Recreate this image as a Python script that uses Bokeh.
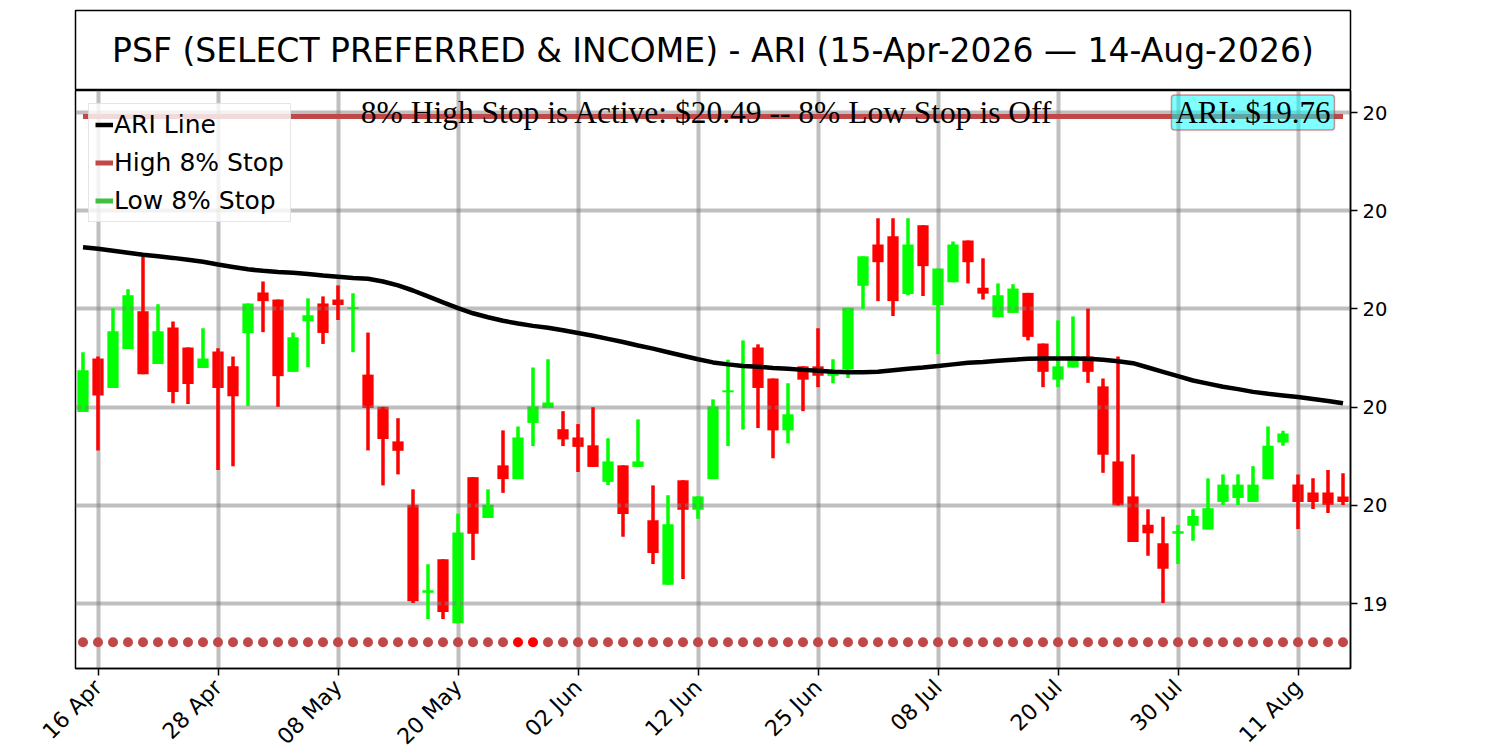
import math
import pandas as pd
from bokeh.plotting import figure
from bokeh.models import ColumnDataSource, FixedTicker, Range1d, Label, Legend, LegendItem
from bokeh.layouts import column
from bokeh.embed import file_html
from bokeh.resources import INLINE
from bokeh.core.properties import value

# ---------------- data ----------------
ticker_name = "PSF (SELECT PREFERRED & INCOME)"
holidays = ["2026-05-25", "2026-06-19", "2026-07-03"]
dates = [d for d in pd.bdate_range("2026-04-15", "2026-08-14") if d.strftime("%Y-%m-%d") not in holidays]

opens = [19.738, 19.874, 19.799, 19.898, 19.994, 19.860, 19.953, 19.902, 19.850, 19.892,
         19.854, 19.939, 20.042, 20.024, 19.840, 19.969, 20.014, 20.024, 20.000, 19.833,
         19.751, 19.663, 19.502, 19.278, 19.363, 19.200, 19.572, 19.468, 19.602, 19.567,
         19.710, 19.748, 19.694, 19.673, 19.653, 19.560, 19.602, 19.598, 19.462, 19.298,
         19.564, 19.489, 19.567, 19.788, 19.851, 19.902, 19.823, 19.691, 19.854, 19.854,
         19.830, 19.846, 20.059, 20.164, 20.185, 20.038, 20.213, 20.010, 20.068, 20.174,
         20.054, 19.979, 19.990, 20.041, 19.912, 19.820, 19.851, 19.879, 19.803, 19.612,
         19.523, 19.451, 19.404, 19.428, 19.448, 19.439, 19.509, 19.519, 19.509, 19.567,
         19.660, 19.553, 19.533, 19.533, 19.523]
highs = [19.890, 19.879, 20.002, 20.050, 20.132, 20.012, 19.968, 19.902, 19.951, 19.900,
         19.879, 20.014, 20.070, 20.024, 19.940, 20.027, 20.032, 20.060, 20.040, 19.940,
         19.751, 19.722, 19.541, 19.350, 19.363, 19.479, 19.572, 19.541, 19.691, 19.701,
         19.851, 19.872, 19.740, 19.707, 19.750, 19.671, 19.602, 19.719, 19.551, 19.526,
         19.564, 19.523, 19.770, 19.871, 19.920, 19.910, 19.823, 19.811, 19.854, 19.951,
         19.872, 20.003, 20.134, 20.231, 20.231, 20.231, 20.213, 20.103, 20.172, 20.174,
         20.129, 20.065, 20.063, 20.041, 19.912, 19.971, 19.981, 20.001, 19.823, 19.879,
         19.630, 19.490, 19.471, 19.450, 19.490, 19.569, 19.579, 19.579, 19.600, 19.701,
         19.690, 19.579, 19.569, 19.590, 19.582]
lows = [19.738, 19.640, 19.799, 19.898, 19.834, 19.860, 19.760, 19.758, 19.850, 19.590,
        19.600, 19.753, 19.941, 19.751, 19.840, 19.852, 19.911, 19.972, 19.890, 19.640,
        19.551, 19.579, 19.252, 19.211, 19.211, 19.200, 19.361, 19.468, 19.532, 19.567,
        19.651, 19.748, 19.651, 19.585, 19.598, 19.552, 19.420, 19.598, 19.351, 19.298,
        19.313, 19.466, 19.567, 19.651, 19.693, 19.697, 19.620, 19.658, 19.740, 19.801,
        19.811, 19.824, 20.000, 20.020, 19.982, 20.035, 20.033, 19.885, 20.068, 20.065,
        20.024, 19.979, 19.990, 19.920, 19.801, 19.801, 19.851, 19.812, 19.583, 19.500,
        19.407, 19.372, 19.252, 19.351, 19.410, 19.439, 19.501, 19.501, 19.509, 19.567,
        19.652, 19.440, 19.491, 19.481, 19.501]
closes = [19.844, 19.780, 19.943, 20.035, 19.834, 19.943, 19.789, 19.809, 19.874, 19.799,
          19.778, 20.014, 20.020, 19.829, 19.928, 19.984, 19.939, 20.010, 20.004, 19.748,
          19.669, 19.639, 19.256, 19.284, 19.229, 19.431, 19.428, 19.502, 19.567, 19.673,
          19.752, 19.762, 19.668, 19.649, 19.598, 19.612, 19.478, 19.612, 19.379, 19.452,
          19.489, 19.523, 19.752, 19.793, 19.860, 19.799, 19.691, 19.732, 19.820, 19.830,
          19.837, 20.003, 20.134, 20.119, 20.020, 20.164, 20.109, 20.103, 20.164, 20.119,
          20.039, 20.035, 20.052, 19.929, 19.840, 19.854, 19.879, 19.840, 19.629, 19.500,
          19.407, 19.429, 19.339, 19.434, 19.473, 19.493, 19.553, 19.553, 19.553, 19.652,
          19.683, 19.509, 19.509, 19.501, 19.509]
ari = [20.157, 20.153, 20.148, 20.143, 20.138, 20.134, 20.130, 20.125, 20.120, 20.113,
       20.107, 20.101, 20.097, 20.094, 20.092, 20.089, 20.085, 20.082, 20.079, 20.077,
       20.070, 20.060, 20.047, 20.032, 20.017, 20.002, 19.989, 19.979, 19.970, 19.963,
       19.957, 19.952, 19.946, 19.939, 19.932, 19.924, 19.916, 19.907, 19.899, 19.890,
       19.881, 19.872, 19.864, 19.859, 19.855, 19.853, 19.850, 19.848, 19.845, 19.843,
       19.840, 19.839, 19.839, 19.840, 19.844, 19.848, 19.851, 19.855, 19.859, 19.863,
       19.865, 19.868, 19.871, 19.873, 19.874, 19.874, 19.874, 19.873, 19.871, 19.867,
       19.862, 19.851, 19.840, 19.829, 19.818, 19.810, 19.802, 19.796, 19.789, 19.784,
       19.780, 19.776, 19.771, 19.766, 19.760]
high_stop = 20.49
signal_level = 19.152
flagged_days = [29, 30]

x_tick_labels = ["16 Apr", "28 Apr", "08 May", "20 May", "02 Jun", "12 Jun",
                 "25 Jun", "08 Jul", "20 Jul", "30 Jul", "11 Aug"]
y_ticks = [19.25, 19.5, 19.75, 20.0, 20.25, 20.5]
y_tick_labels = ["19", "20", "20", "20", "20", "20"]

# ---------------- derived ----------------
N = len(opens)
idx = list(range(N))
day_labels = [d.strftime("%d %b") for d in dates]
x_ticks = [day_labels.index(lbl) for lbl in x_tick_labels]
title = "%s - ARI (%s \u2014 %s)" % (ticker_name, dates[0].strftime("%d-%b-%Y"), dates[-1].strftime("%d-%b-%Y"))

GREEN = "#00ff00"
RED = "#ff0000"
colors = [GREEN if c > o else RED for o, c in zip(opens, closes)]
src = ColumnDataSource(dict(
    x=idx,
    top=[max(o, c) for o, c in zip(opens, closes)],
    bottom=[min(o, c) for o, c in zip(opens, closes)],
    high=highs, low=lows, color=colors))

FONT = "DejaVu Sans"
SERIF = "Liberation Serif"
FRAME_W = 1275
LEFT = 75
RIGHT = 80

# ---------------- title box ----------------
t = figure(frame_width=FRAME_W, frame_height=80, x_range=Range1d(0, 1), y_range=Range1d(0, 1),
           output_backend="svg", toolbar_location=None,
           x_axis_location=None, y_axis_location=None,
           min_border_left=LEFT, min_border_right=RIGHT, min_border_top=10, min_border_bottom=0)
t.xgrid.visible = False
t.ygrid.visible = False
t.outline_line_color = "black"
t.outline_line_width = 1.5
t.text(x=[0.5], y=[0.5], text=[title], text_align="center", text_baseline="middle",
       text_font=value(FONT), text_font_size="33px", text_color="black")

# ---------------- main chart ----------------
x_start, x_end = -0.5, N - 0.5
p = figure(frame_width=FRAME_W, frame_height=578,
           x_range=Range1d(x_start, x_end), y_range=Range1d(19.085, 20.556),
           output_backend="svg", toolbar_location=None, y_axis_location="right",
           min_border_left=LEFT, min_border_right=RIGHT, min_border_top=0, min_border_bottom=70)
p.outline_line_color = "black"
p.outline_line_width = 1.5
p.background_fill_color = "white"

xt = FixedTicker(ticks=x_ticks)
yt = FixedTicker(ticks=y_ticks)
p.xgrid.ticker = xt
p.ygrid.ticker = yt
xax = p.xaxis[0]
yax = p.yaxis[0]
xax.ticker = xt
yax.ticker = yt
xax.major_label_overrides = {k: v for k, v in zip(x_ticks, x_tick_labels)}
yax.major_label_overrides = {k: v for k, v in zip(y_ticks, y_tick_labels)}
xax.major_label_orientation = math.pi / 4
for ax in (xax, yax):
    ax.major_label_text_font = FONT
    ax.major_label_text_color = "black"
    ax.major_tick_out = 7
    ax.major_tick_in = 0
    ax.minor_tick_out = 0
    ax.minor_tick_in = 0
    ax.major_tick_line_width = 1.5
    ax.axis_line_width = 1.5
xax.major_label_text_font_size = "22px"
yax.major_label_text_font_size = "19.5px"
xax.major_label_standoff = 8
yax.major_label_standoff = 5
for g in (p.xgrid[0], p.ygrid[0]):
    g.grid_line_color = "gray"
    g.grid_line_alpha = 0.5
    g.grid_line_width = 4

bodies = p.vbar(x="x", width=0.75, top="top", bottom="bottom", fill_color="color",
                line_color=None, source=src, level="image")
wicks = p.segment(x0="x", y0="low", x1="x", y1="high", line_color="color", line_width=3.5, source=src)

ari_r = p.line(idx, ari, line_color="black", line_width=4.5)
hi_r = p.line(idx, [high_stop] * N, line_color="#c04848", line_width=5)
lo_r = p.line([0, 1], [float("nan"), float("nan")], line_color="#40bf40", line_width=5)
dot_colors = [RED if i in flagged_days else "#c04848" for i in idx]
p.scatter(idx, [signal_level] * N, size=10, marker="circle", fill_color=dot_colors, line_color=None)

p.add_layout(Label(x=41.6, y=high_stop, y_offset=4,
                   text="8%% High Stop is Active: $%.2f -- 8%% Low Stop is Off" % high_stop,
                   text_align="center", text_baseline="alphabetic",
                   text_font=SERIF, text_font_size="31.5px", text_color="black"))
p.add_layout(Label(x=x_end - 1.07, y=high_stop, y_offset=4,
                   text="ARI: $%.2f" % ari[-1],
                   text_align="right", text_baseline="alphabetic",
                   text_font=SERIF, text_font_size="31px", text_color="black",
                   background_fill_color="#00ffff", background_fill_alpha=0.5,
                   border_line_color="#b03030", border_line_alpha=0.5, border_line_width=1.5,
                   padding=dict(left=4, right=4, top=0, bottom=0), border_radius=3))

legend = Legend(items=[LegendItem(label="ARI Line", renderers=[ari_r]),
                       LegendItem(label="High 8% Stop", renderers=[hi_r]),
                       LegendItem(label="Low 8% Stop", renderers=[lo_r])],
                location="top_left")
legend.label_text_font = FONT
legend.label_text_font_size = "25px"
legend.label_text_color = "black"
legend.glyph_width = 18
legend.glyph_height = 27
legend.label_height = 27
legend.spacing = 9
legend.padding = 6
legend.margin = 13
legend.label_standoff = 1
legend.border_line_color = "#cccccc"
legend.border_line_width = 1.5
legend.background_fill_alpha = 0.8
p.add_layout(legend)

layout = column(t, p, spacing=0)
open("out.html", "w").write(file_html(layout, INLINE))
